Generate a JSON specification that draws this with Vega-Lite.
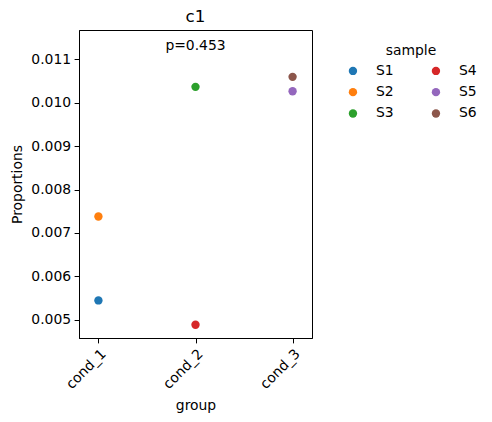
{
  "$schema": "https://vega.github.io/schema/vega-lite/v6.json",
  "autosize": {"type": "none"},
  "padding": {"left": 79, "top": 30, "right": 180, "bottom": 84},
  "width": 233,
  "height": 308,
  "config": {
    "font": "DejaVu Sans",
    "view": {"stroke": "black", "strokeWidth": 1},
    "axis": {
      "grid": false,
      "domainColor": "black",
      "tickColor": "black",
      "tickSize": 4.9,
      "labelColor": "black",
      "titleColor": "black",
      "labelFontSize": 13.9,
      "titleFontSize": 13.9,
      "titleFontWeight": "normal",
      "labelPadding": 3.5
    },
    "title": {"fontSize": 16.7, "fontWeight": "normal", "color": "black", "offset": 4}
  },
  "title": {"text": "c1"},
  "datasets": {
    "points": [
      {"group": "cond_1", "sample": "S1", "prop": 0.00545},
      {"group": "cond_1", "sample": "S2", "prop": 0.00738},
      {"group": "cond_2", "sample": "S3", "prop": 0.01036},
      {"group": "cond_2", "sample": "S4", "prop": 0.00489},
      {"group": "cond_3", "sample": "S5", "prop": 0.01026},
      {"group": "cond_3", "sample": "S6", "prop": 0.01059}
    ],
    "annot": [
      {"group": "cond_2", "prop": 0.01131, "label": "p=0.453"}
    ]
  },
  "layer": [
    {
      "data": {"name": "points"},
      "mark": {"type": "circle", "size": 70, "opacity": 1},
      "encoding": {
        "x": {
          "field": "group", "type": "nominal",
          "scale": {"type": "point", "padding": 0.2, "domain": ["cond_1", "cond_2", "cond_3"]},
          "axis": {"title": "group", "labelAngle": -45, "labelAlign": "right", "labelBaseline": "top", "titlePadding": 7}
        },
        "y": {
          "field": "prop", "type": "quantitative",
          "scale": {"domain": [0.004586, 0.011667], "nice": false, "zero": false},
          "axis": {"title": "Proportions", "values": [0.005, 0.006, 0.007, 0.008, 0.009, 0.01, 0.011], "format": ".3f", "titlePadding": 6}
        },
        "color": {
          "field": "sample", "type": "nominal",
          "scale": {
            "domain": ["S1", "S2", "S3", "S4", "S5", "S6"],
            "range": ["#1f77b4", "#ff7f0e", "#2ca02c", "#d62728", "#9467bd", "#8c564b"]
          },
          "legend": {
            "title": "sample",
            "orient": "none",
            "legendX": 267,
            "legendY": 14,
            "columns": 2,
            "symbolType": "circle",
            "symbolSize": 70,
            "symbolStrokeWidth": 0,
            "labelOffset": 16,
            "columnPadding": 35,
            "rowPadding": 6.3,
            "labelFontSize": 13.9,
            "titleFontSize": 13.9,
            "titleFontWeight": "normal",
            "titleColor": "black",
            "labelColor": "black",
            "titleAnchor": "middle",
            "titleAlign": "center",
            "titlePadding": 6
          }
        }
      }
    },
    {
      "data": {"name": "annot"},
      "mark": {"type": "text", "fontSize": 13.9, "color": "black", "baseline": "middle", "align": "center"},
      "encoding": {
        "x": {"field": "group", "type": "nominal"},
        "y": {"field": "prop", "type": "quantitative"},
        "text": {"field": "label"}
      }
    }
  ]
}
